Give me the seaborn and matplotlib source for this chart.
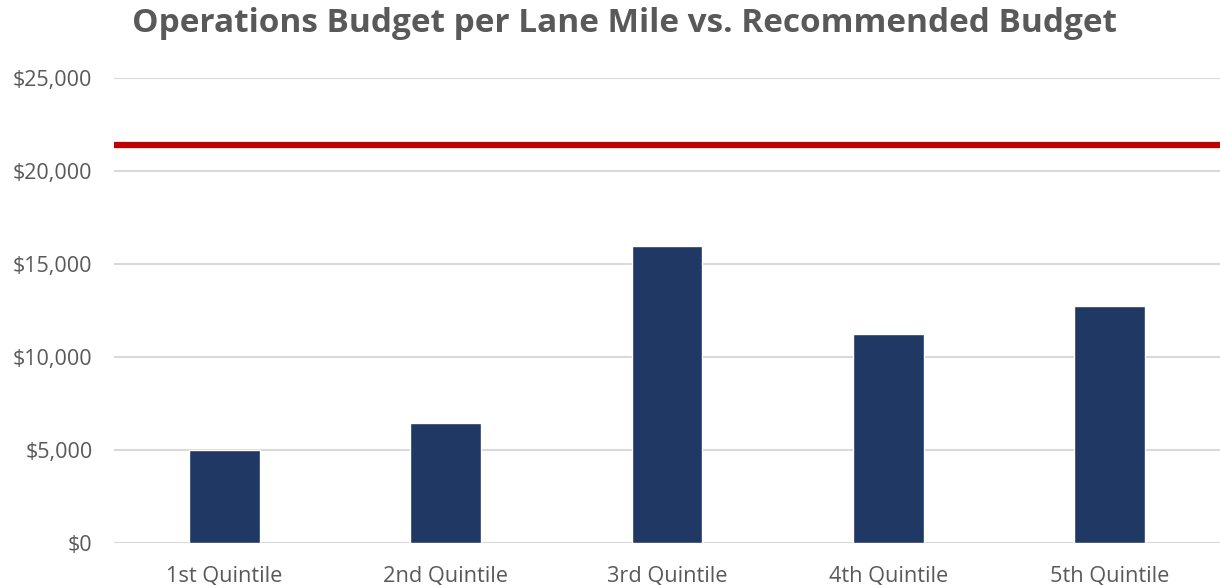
import matplotlib
matplotlib.use("Agg")
import matplotlib.pyplot as plt
import seaborn as sns
import pandas as pd
from matplotlib.ticker import FuncFormatter

categories = ["1st Quintile", "2nd Quintile", "3rd Quintile", "4th Quintile", "5th Quintile"]
budget = [5000, 6430, 15950, 11250, 12750]
recommended = 21400
yticks = [0, 5000, 10000, 15000, 20000, 25000]

df = pd.DataFrame({"cat": categories, "val": budget})

sns.set_style("white")
plt.rcParams["font.family"] = ["Open Sans", "DejaVu Sans"]

fig = plt.figure(figsize=(12.2, 5.85), dpi=100)
ax = fig.add_axes([114/1220, 1-543/585, 1-114/1220, (543-78)/585])

sns.barplot(data=df, x="cat", y="val", color="#203864", width=0.32, ax=ax, saturation=1)
ax.axhline(recommended, color="#C00000", linewidth=4.5, zorder=3)

ax.set_ylim(0, 25000)
ax.set_xlim(-0.5, 4.5)
ax.set_yticks(yticks)
ax.yaxis.set_major_formatter(FuncFormatter(lambda v, p: f"${v:,.0f}"))
ax.grid(axis="y", color="#D9D9D9", linewidth=1.5)
ax.set_axisbelow(True)
for s in ax.spines.values():
    s.set_visible(False)
ax.tick_params(axis="both", length=0, labelcolor="#595959")
ax.tick_params(axis="y", pad=15.5, labelsize=15.5)
ax.tick_params(axis="x", pad=16, labelsize=15.7)
ax.set_xlabel("")
ax.set_ylabel("")

fig.text(625/1220, 1-24/585, "Operations Budget per Lane Mile vs. Recommended Budget",
         ha="center", va="center", fontsize=24, fontweight="bold", color="#595959")

fig.savefig("out.png", dpi=100)
